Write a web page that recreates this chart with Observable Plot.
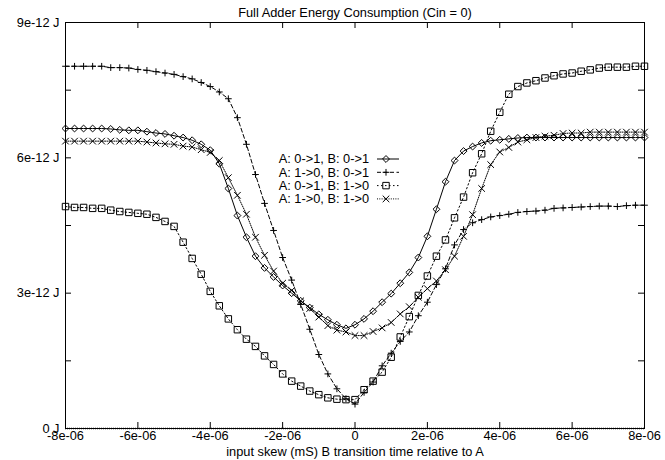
<!DOCTYPE html>
<html>
<head>
<meta charset="utf-8">
<script src="https://cdn.jsdelivr.net/npm/d3@7"></script>
<script src="https://cdn.jsdelivr.net/npm/@observablehq/plot@0.6"></script>
<style>
  body { margin: 0; background: #fff; }
  #chart { width: 665px; height: 460px; }
</style>
</head>
<body>
<div id="chart"></div>
<script>
// ---- data (x in units of 1e-6 s, energy in units of 1e-12 J) ----
const skew = [
  -8, -7.75, -7.5, -7.25, -7, -6.75, -6.5, -6.25, -6, -5.75, -5.5, -5.25, -5,
  -4.75, -4.5, -4.25, -4, -3.75, -3.5, -3.25, -3, -2.75, -2.5, -2.25, -2, -1.75,
  -1.5, -1.25, -1, -0.75, -0.5, -0.25, 0, 0.25, 0.5, 0.75, 1, 1.25, 1.5,
  1.75, 2, 2.25, 2.5, 2.75, 3, 3.25, 3.5, 3.75, 4, 4.25, 4.5, 4.75,
  5, 5.25, 5.5, 5.75, 6, 6.25, 6.5, 6.75, 7, 7.25, 7.5, 7.75, 8
];
const energyA01B01 = [
  6.65, 6.65, 6.65, 6.65, 6.65, 6.64, 6.62, 6.61, 6.61, 6.58, 6.55, 6.53, 6.49,
  6.45, 6.39, 6.30, 6.17, 5.87, 5.32, 4.72, 4.24, 3.82, 3.56, 3.36, 3.17, 3.00,
  2.83, 2.68, 2.53, 2.41, 2.30, 2.22, 2.30, 2.43, 2.60, 2.80, 2.99, 3.22, 3.46,
  3.79, 4.26, 4.86, 5.47, 5.94, 6.15, 6.25, 6.33, 6.38, 6.40, 6.42, 6.44, 6.45,
  6.45, 6.45, 6.45, 6.45, 6.45, 6.45, 6.45, 6.45, 6.45, 6.45, 6.45, 6.45, 6.45
];
const energyA10B01 = [
  8.03, 8.03, 8.03, 8.03, 8.03, 8.00, 8.00, 7.99, 7.96, 7.94, 7.91, 7.88, 7.85,
  7.80, 7.75, 7.67, 7.58, 7.46, 7.31, 6.89, 6.30, 5.63, 4.99, 4.39, 3.79, 3.29,
  2.75, 2.20, 1.64, 1.21, 0.88, 0.66, 0.54, 0.80, 1.03, 1.39, 1.67, 1.93, 2.14,
  2.50, 2.80, 3.19, 3.54, 4.07, 4.41, 4.56, 4.63, 4.69, 4.72, 4.75, 4.79, 4.81,
  4.82, 4.84, 4.88, 4.89, 4.90, 4.91, 4.92, 4.93, 4.93, 4.92, 4.94, 4.95, 4.95
];
const energyA01B10 = [
  4.92, 4.90, 4.90, 4.88, 4.88, 4.84, 4.81, 4.79, 4.77, 4.75, 4.68, 4.59, 4.48,
  4.13, 3.77, 3.42, 3.04, 2.72, 2.43, 2.19, 1.98, 1.82, 1.61, 1.42, 1.21, 1.05,
  0.94, 0.83, 0.75, 0.68, 0.65, 0.64, 0.64, 0.86, 1.05, 1.25, 1.58, 2.03, 2.48,
  2.95, 3.38, 3.82, 4.18, 4.67, 5.13, 5.67, 6.09, 6.59, 7.01, 7.41, 7.58, 7.66,
  7.71, 7.77, 7.82, 7.86, 7.88, 7.92, 7.95, 7.99, 8.01, 8.01, 8.01, 8.03, 8.03
];
const energyA10B10 = [
  6.37, 6.37, 6.37, 6.37, 6.37, 6.37, 6.37, 6.37, 6.37, 6.35, 6.33, 6.31, 6.30,
  6.26, 6.24, 6.18, 6.12, 5.94, 5.56, 5.17, 4.75, 4.24, 3.84, 3.49, 3.22, 3.06,
  2.83, 2.66, 2.47, 2.28, 2.18, 2.14, 2.06, 2.06, 2.15, 2.23, 2.35, 2.54, 2.70,
  2.91, 3.10, 3.27, 3.52, 3.82, 4.26, 4.74, 5.32, 5.85, 6.13, 6.23, 6.35, 6.40,
  6.45, 6.48, 6.50, 6.54, 6.55, 6.55, 6.57, 6.57, 6.57, 6.57, 6.57, 6.57, 6.57
];
const seriesNames = [
  "A: 0->1, B: 0->1",
  "A: 1->0, B: 0->1",
  "A: 0->1, B: 1->0",
  "A: 1->0, B: 1->0"
];
const xTicks = [-8, -6, -4, -2, 0, 2, 4, 6, 8];
const xTickLabels = ["-8e-06", "-6e-06", "-4e-06", "-2e-06", "0", "2e-06", "4e-06", "6e-06", "8e-06"];
const yTicks = [0, 1.5, 3, 4.5, 6, 7.5, 9];
const yLabelTicks = [0, 3, 6, 9];
const yTickLabels = ["0 J", "3e-12 J", "6e-12 J", "9e-12 J"];
const titleText = "Full Adder Energy Consumption (Cin = 0)";
const xLabelText = "input skew (mS) B transition time relative to A";

// ---- styles per series ----
const styles = [
  {symbol: "diamond2", r: 3.1, dash: null},
  {symbol: "plus", r: 2.3, dash: "4,2.5"},
  {symbol: "square2", r: 4.1, dash: "1.5,2.5"},
  {symbol: "times", r: 3.1, dash: "1,1.3"}
];
const allSeries = [energyA01B01, energyA10B01, energyA01B10, energyA10B10];
const rows = allSeries.map((vals, i) => vals.map((e, j) => ({x: skew[j], e, s: i})));

const W = 665, H = 460, mL = 65, mR = 21, mT = 22, mB = 32;
const innerW = W - mL - mR, innerH = H - mT - mB;
const tickLen = 6;
const font = "'Liberation Sans', Arial, Helvetica, sans-serif";
const fs = 12.8;

const marks = [];
rows.forEach((data, i) => {
  marks.push(Plot.line(data, {x: "x", y: "e", stroke: "#000", strokeWidth: 1, strokeDasharray: styles[i].dash}));
});
rows.forEach((data, i) => {
  marks.push(Plot.dot(data, {x: "x", y: "e", symbol: styles[i].symbol, r: styles[i].r, stroke: "#000", strokeWidth: 1, fill: "none"}));
});
marks.push(
  Plot.ruleY([0], {stroke: "#000", strokeWidth: 1.6, strokeDasharray: "1,1"}),
  Plot.frame({stroke: "#000", strokeWidth: 1}),
  // inward ticks on all four sides
  Plot.tickX(xTicks, {x: d => d, insetTop: innerH - tickLen, stroke: "#000"}),
  Plot.tickX(xTicks, {x: d => d, insetBottom: innerH - tickLen, stroke: "#000"}),
  Plot.tickY(yTicks, {y: d => d, insetRight: innerW - tickLen, stroke: "#000"}),
  Plot.tickY(yTicks, {y: d => d, insetLeft: innerW - tickLen, stroke: "#000"}),
  Plot.axisX(xTicks, {tickSize: 0, tickPadding: 2, tickFormat: d => xTickLabels[xTicks.indexOf(d)], label: null, fontSize: fs}),
  Plot.axisY(yLabelTicks, {tickSize: 0, tickPadding: 6, tickFormat: d => yTickLabels[yLabelTicks.indexOf(d)], label: null, fontSize: fs}),
  Plot.text([titleText], {text: d => d, frameAnchor: "top", lineAnchor: "middle", dy: -10, fill: "#000", fontSize: fs}),
  Plot.text([xLabelText], {text: d => d, frameAnchor: "bottom", lineAnchor: "middle", dy: 23.5, fill: "#000", fontSize: fs})
);

const svg = Plot.plot({
  width: W, height: H,
  marginLeft: mL, marginRight: mR, marginTop: mT, marginBottom: mB,
  style: {fontFamily: font, fontSize: fs + "px", color: "#000", background: "#fff", overflow: "visible"},
  x: {domain: [-8, 8]},
  y: {domain: [0, 9]},
  marks
});

// ---- legend (gnuplot style, inside the plot) ----
const legend = d3.select(svg).append("g")
  .attr("font-family", font).attr("font-size", fs).attr("fill", "#000");
const legX = 369, legY0 = 159, legDy = 13.3, sampleX0 = 377, sampleX1 = 399;
const symMap = {diamond2: d3.symbolDiamond2, plus: d3.symbolPlus, square2: d3.symbolSquare2, times: d3.symbolTimes};
seriesNames.forEach((name, i) => {
  const y = legY0 + i * legDy;
  legend.append("text").attr("x", legX).attr("y", y).attr("dy", "0.35em")
    .attr("text-anchor", "end").text(name);
  legend.append("line").attr("x1", sampleX0).attr("x2", sampleX1).attr("y1", y).attr("y2", y)
    .attr("stroke", "#000").attr("stroke-width", 1)
    .attr("stroke-dasharray", styles[i].dash);
  legend.append("path")
    .attr("d", d3.symbol(symMap[styles[i].symbol], Math.PI * styles[i].r * styles[i].r)())
    .attr("transform", `translate(${(sampleX0 + sampleX1) / 2 - 2},${y})`)
    .attr("fill", "none").attr("stroke", "#000").attr("stroke-width", 1);
});

document.getElementById("chart").appendChild(svg);
</script>
</body>
</html>
